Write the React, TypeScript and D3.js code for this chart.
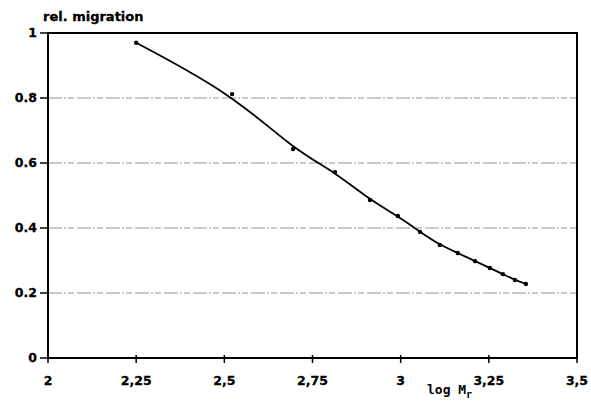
import React from "react";
import * as d3 from "d3";

const xValues = [2.25, 2.522, 2.695, 2.814, 2.913, 2.992, 3.055, 3.111, 3.162, 3.211, 3.253, 3.29, 3.324, 3.355];
const yValues = [0.97, 0.812, 0.643, 0.572, 0.486, 0.437, 0.388, 0.348, 0.323, 0.298, 0.277, 0.258, 0.24, 0.228];
const xTicks = [2, 2.25, 2.5, 2.75, 3, 3.25, 3.5];
const xTickLabels = ["2", "2,25", "2,5", "2,75", "3", "3,25", "3,5"];
const yTicks = [0, 0.2, 0.4, 0.6, 0.8, 1];
const yTickLabels = ["0", "0.2", "0.4", "0.6", "0.8", "1"];
const gridValues = [0.2, 0.4, 0.6, 0.8];

export default function App() {
  const W = 591, H = 402;
  const x = d3.scaleLinear().domain([2, 3.5]).range([48, 577]);
  const y = d3.scaleLinear().domain([0, 1]).range([358, 33]);
  const pts: [number, number][] = xValues.map((v, i) => [v, yValues[i]]);
  const line = d3.line<[number, number]>().x(d => x(d[0])).y(d => y(d[1])).curve(d3.curveBasis);
  const font = "'DejaVu Sans', Verdana, sans-serif";
  const mono = "'DejaVu Sans Mono', 'Liberation Mono', monospace";
  return (
    <svg width={W} height={H} style={{ position: "absolute", left: 0, top: 0, background: "#fff" }}>
      <rect x={0} y={0} width={W} height={H} fill="#fff" />
      {gridValues.map(g => (
        <line key={g} x1={x(2)} x2={x(3.5)} y1={y(g)} y2={y(g)} stroke="#888" strokeWidth={0.9} strokeDasharray="14 2 2 2 6 3" />
      ))}
      <rect x={x(2)} y={y(1)} width={x(3.5) - x(2)} height={y(0) - y(1)} fill="none" stroke="#000" strokeWidth={2} />
      {yTicks.map((t, i) => (
        <g key={t}>
          <line x1={x(2) - 8} x2={x(2)} y1={y(t)} y2={y(t)} stroke="#000" strokeWidth={1.5} />
          <text x={37} y={y(t)} dy="0.35em" textAnchor="end" fontFamily={font} fontWeight="bold" fontSize={12.5} stroke="#000" strokeWidth={0.3}>{yTickLabels[i]}</text>
        </g>
      ))}
      {xTicks.map((t, i) => (
        <g key={t}>
          <line x1={x(t)} x2={x(t)} y1={y(0) - 3} y2={y(0) + 5} stroke="#000" strokeWidth={1.5} />
          <text x={x(t)} y={385} textAnchor="middle" fontFamily={font} fontWeight="bold" fontSize={12.5} stroke="#000" strokeWidth={0.3}>{xTickLabels[i]}</text>
        </g>
      ))}
      <path d={line(pts) || ""} fill="none" stroke="#000" strokeWidth={1.8} />
      {pts.map((p, i) => (
        <circle key={i} cx={x(p[0])} cy={y(p[1])} r={2.2} fill="#000" />
      ))}
      <text x={43} y={21} fontFamily={font} fontWeight="bold" fontSize={13} stroke="#000" strokeWidth={0.3}>rel. migration</text>
      <text x={427} y={394} fontFamily={mono} fontWeight="bold" fontSize={13}>log M</text>
      <text x={466} y={398} fontFamily={mono} fontWeight="bold" fontSize={10}>r</text>
    </svg>
  );
}
